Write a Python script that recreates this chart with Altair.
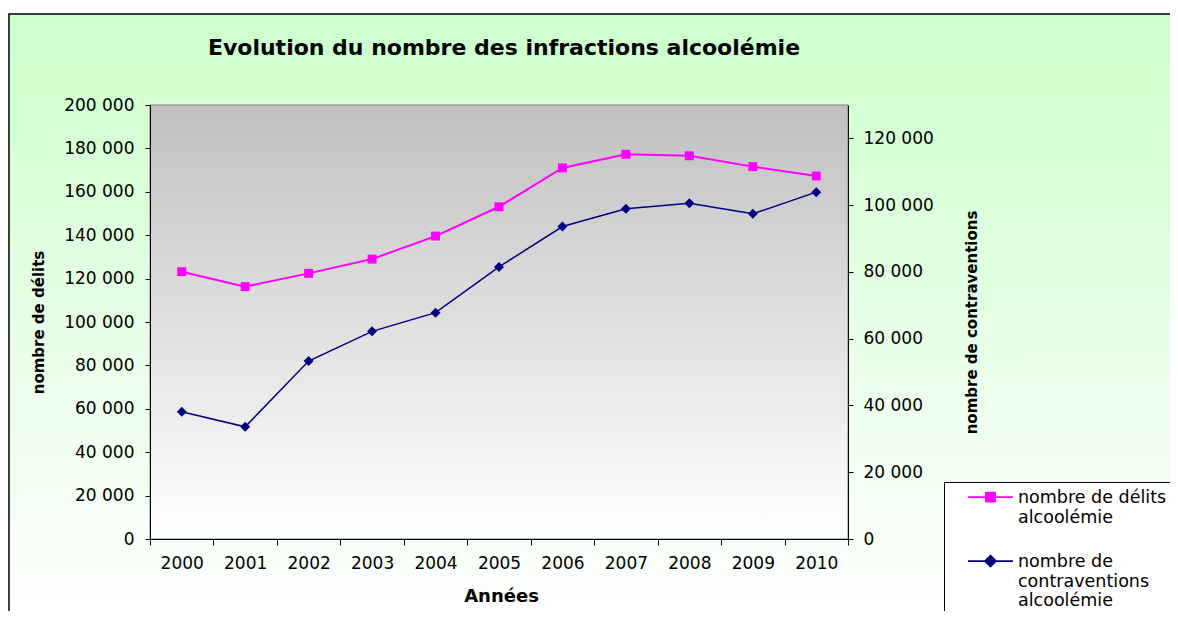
import altair as alt
import pandas as pd

years = ["2000", "2001", "2002", "2003", "2004", "2005", "2006", "2007", "2008", "2009", "2010"]
delits = [123200, 116300, 122400, 129000, 139600, 153100, 171000, 177300, 176600, 171600, 167300]
contraventions = [38100, 33600, 53300, 62200, 67800, 81500, 93600, 98900, 100600, 97400, 103900]
series = ["nombre de délits|alcoolémie", "nombre de|contraventions|alcoolémie"]
colors = ["#FF00FF", "#000080"]
left_ticks = [0, 20000, 40000, 60000, 80000, 100000, 120000, 140000, 160000, 180000, 200000]
right_ticks = [0, 20000, 40000, 60000, 80000, 100000, 120000]
title_text = "Evolution du nombre des infractions alcoolémie"

W, H = 698, 434
FONT = "DejaVu Sans"

df = pd.DataFrame({"year": years, "delits": delits, "contraventions": contraventions})
one = alt.Data(values=[{"a": 1}])
leg_df = pd.DataFrame({"serie": series})

num_expr = "replace(format(datum.value, ','), ',', ' ')"

x_enc = alt.X("year:N", sort=years,
              scale=alt.Scale(type="band", paddingInner=0, paddingOuter=0),
              axis=alt.Axis(orient="bottom", title="Années", labelAngle=0, tickBand="extent",
                            labelFont=FONT, labelFontSize=17, labelColor="black", labelPadding=10,
                            tickSize=6, tickColor="black", domainColor="black", grid=False,
                            titleFont=FONT, titleFontSize=18, titleFontWeight="bold", titleColor="black",
                            titleX=351, titleY=57, titleBaseline="middle", titleAlign="center",
                            zindex=1))

bg = alt.Chart(one).mark_rect(
    fill=alt.Gradient(gradient="linear",
                      stops=[alt.GradientStop(color="#CCFFCC", offset=0),
                             alt.GradientStop(color="#FFFFFF", offset=1)],
                      x1=0, x2=0, y1=0, y2=1),
    stroke="black", strokeWidth=1.5
).encode(x=alt.value(-141), x2=alt.value(1030), y=alt.value(-91), y2=alt.value(514))

plotbg = alt.Chart(one).mark_rect(
    fill=alt.Gradient(gradient="linear",
                      stops=[alt.GradientStop(color="#C0C0C0", offset=0),
                             alt.GradientStop(color="#FFFFFF", offset=1)],
                      x1=0, x2=0, y1=0, y2=1),
    stroke="#808080", strokeWidth=1
).encode(x=alt.value(0), x2=alt.value(W), y=alt.value(0), y2=alt.value(H))

legbox = alt.Chart(one).mark_rect(fill="white", stroke="black", strokeWidth=1).encode(
    x=alt.value(794.5), x2=alt.value(1040), y=alt.value(377.5), y2=alt.value(530))

title = alt.Chart(one).mark_text(text=title_text, font=FONT, fontWeight="bold", fontSize=22,
                                 color="black", align="center", baseline="middle").encode(
    x=alt.value(354), y=alt.value(-57))

y_left = alt.Y("delits:Q", scale=alt.Scale(domain=[0, 200000], nice=False, zero=True),
               axis=alt.Axis(orient="left", values=left_ticks, labelExpr=num_expr,
                             labelFont=FONT, labelFontSize=17, labelColor="black", labelPadding=11,
                             tickSize=5, tickColor="black", domainColor="black", grid=False,
                             title="nombre de délits", titleFont=FONT, titleFontSize=15,
                             titleFontWeight="bold", titleColor="black", titleAngle=270,
                             titleX=-112, titleY=217, titleBaseline="middle", titleAlign="center",
                             zindex=1))
y_right = alt.Y("contraventions:Q", scale=alt.Scale(domain=[0, 130000], nice=False, zero=True),
                axis=alt.Axis(orient="right", values=right_ticks, labelExpr=num_expr,
                              labelFont=FONT, labelFontSize=17, labelColor="black", labelPadding=10,
                              tickSize=5, tickColor="black", domainColor="black", grid=False,
                              title="nombre de contraventions", titleFont=FONT, titleFontSize=15,
                              titleFontWeight="bold", titleColor="black", titleAngle=270,
                              titleX=123, titleY=217, titleBaseline="middle", titleAlign="center",
                              zindex=1))

base = alt.Chart(df)
left = alt.layer(
    base.mark_line(color=colors[0], strokeWidth=2),
    base.mark_point(shape="square", filled=True, color=colors[0], size=80, opacity=1),
).encode(x=x_enc, y=y_left)
right = alt.layer(
    base.mark_line(color=colors[1], strokeWidth=1.5),
    base.mark_point(shape="diamond", filled=True, color=colors[1], size=100, opacity=1),
).encode(x=x_enc, y=y_right)

paths = ["M-1,0.36H1M-0.2,0.16H0.2V0.56H-0.2Z",
         "M-1,0.36H1M0,0.12L0.24,0.36L0,0.6L-0.24,0.36Z"]
legend = alt.Legend(orient="none", legendX=817, legendY=360.5, padding=0, title=None,
                    labelExpr="split(datum.label, '|')", labelFont=FONT, labelFontSize=17.5,
                    labelColor="black", labelBaseline="top", labelOffset=4, labelLimit=400,
                    symbolSize=2025, symbolStrokeWidth=1.8, symbolOpacity=1, rowPadding=3,
                    zindex=2)
leg_layer = alt.Chart(leg_df).mark_point(filled=True, size=2025, opacity=1).encode(
    x=alt.value(-5000), y=alt.value(-5000),
    color=alt.Color("serie:N", scale=alt.Scale(domain=series, range=colors), legend=legend),
    stroke=alt.Stroke("serie:N", scale=alt.Scale(domain=series, range=colors), legend=legend),
    shape=alt.Shape("serie:N", scale=alt.Scale(domain=series, range=paths), legend=legend),
)

chart = alt.layer(bg, plotbg, legbox, title, left, right, leg_layer).resolve_scale(
    y="independent"
).properties(
    width=W, height=H,
    autosize=alt.AutoSizeParams(type="none"),
    padding={"left": 142, "top": 97, "right": 322, "bottom": 72},
).configure(font=FONT).configure_view(stroke=None)

chart.save("out.html", embed_options={"renderer": "svg", "actions": False})
